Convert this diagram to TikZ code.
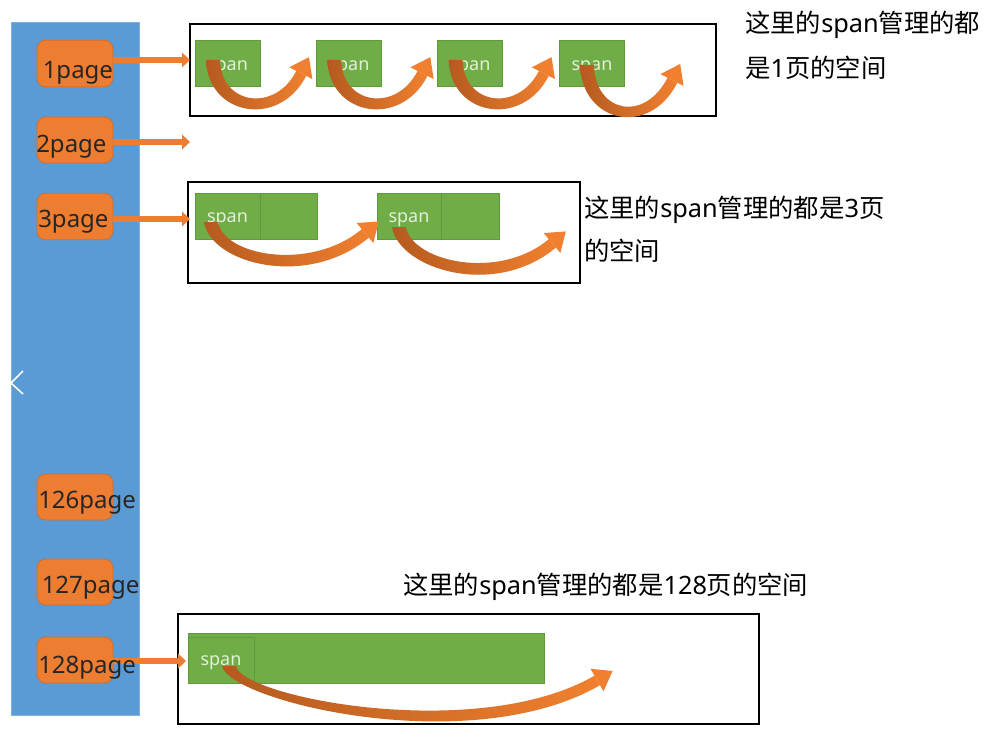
\documentclass[tikz,border=0pt]{standalone}
\usepackage{fontspec}
\setmainfont{Noto Sans}
\newfontfamily\cjk{Noto Sans CJK SC}
\usetikzlibrary{arrows.meta,calc}
\definecolor{barblue}{HTML}{5B9BD5}
\definecolor{barline}{HTML}{7FB1E0}
\definecolor{pgorange}{HTML}{ED7D31}
\definecolor{pgline}{HTML}{CF6E2C}
\definecolor{arrdark}{HTML}{B55A1F}
\definecolor{arrlight}{HTML}{F0802F}
\definecolor{spgreen}{HTML}{70AD47}
\definecolor{spline}{HTML}{5E9B3C}
\definecolor{sptext}{HTML}{E2EFDA}
\definecolor{labtext}{HTML}{262626}
% curved arrow: start x,y ; head base x,y ; head angle ; ctrl1 dx,dy ; ctrl2 length ; inner factor
\newcommand\carr[9]{%
  \coordinate (cS) at (#1,#2);
  \coordinate (cM) at (#3,#4);
  \coordinate (cJo) at ($(cM)+(#5+90:6)$);
  \coordinate (cJi) at ($(cM)+(#5-90:5)$);
  \coordinate (cWo) at ($(cM)+(#5+90:13)$);
  \coordinate (cWi) at ($(cM)+(#5-90:13)$);
  \coordinate (cT) at ($(cM)+(#5:18)$);
  \shade[left color=arrdark,right color=arrlight]
    ($(cS)+(-7,0)$) .. controls ($(cS)+(#6,#7)$) and ($(cJo)+(#5+180:#8)$) .. (cJo)
    -- (cJi) .. controls ($(cJi)+(#5+180:#9*#8)$) and ($(cS)+(#6+13,#9*#7)$) .. ($(cS)+(7,0)$) -- cycle;
  \fill[arrlight] (cWi) -- (cT) -- (cWo) -- cycle;
}
\begin{document}
\begin{tikzpicture}[x=0.75pt,y=-0.75pt,
  pagebox/.style={draw=pgline,line width=0.6pt,fill=pgorange,rounded corners=6.5pt,
    minimum width=57pt,minimum height=35pt,inner sep=0pt},
  pagelabel/.style={anchor=base west,inner sep=0pt,text=labtext,font=\fontsize{18}{20}\selectfont},
  pagearrow/.style={draw=pgorange,line width=3.8pt,-{Triangle[length=6pt,width=11pt]}},
  spanbox/.style={draw=spline,line width=0.5pt,fill=spgreen,inner sep=0pt,
    minimum width=48.75pt,minimum height=35pt,text=sptext,text height=1.2em,text depth=0.2em,
    font=\fontsize{13.5}{15}\selectfont},
  cellbox/.style={draw=spline,line width=0.5pt,fill=spgreen,inner sep=0pt,minimum height=34.5pt},
  frame/.style={draw=black,line width=2.2pt},
  note/.style={anchor=base west,inner sep=0pt,text=black,font=\fontsize{19}{21}\selectfont}]
\useasboundingbox (0,0) rectangle (988,738);
\fill[white] (0,0) rectangle (988,738);

% blue column
\draw[fill=barblue,draw=barline,line width=0.6pt] (11,22) rectangle (139,715);
\draw[white,line width=1.2pt] (23,371) -- (11,383) -- (23,394);

% page boxes
\node[pagebox] (p1) at (75,63.5) {};
\node[pagebox,minimum height=34.5pt] (p2) at (75,140) {};
\node[pagebox] (p3) at (75,216.5) {};
\node[pagebox,minimum height=34.5pt] (p126) at (75,497) {};
\node[pagebox,minimum height=34.5pt] (p127) at (75,582) {};
\node[pagebox,minimum height=34.5pt] (p128) at (75,660) {};

% frames
\draw[frame] (190,24) rectangle (716,116);
\draw[frame] (188,182) rectangle (580,283);
\draw[frame] (178,614) rectangle (759,724);

% arrows from page boxes
\coordinate (t1) at (190,60);
\coordinate (t2) at (190,142);
\coordinate (t3) at (190,219);
\coordinate (t128) at (186,661);
\draw[pagearrow] (p1.east |- t1) -- (t1);
\draw[pagearrow] (p2.east |- t2) -- (t2);
\draw[pagearrow] (p3.east |- t3) -- (t3);
\draw[pagearrow] ($(p128.east |- t128)+(-5,0)$) -- (t128);

% page labels
\node[pagelabel] (l1) at (42.5,79) {1page};
\node[pagelabel] (l2) at (36,152) {2page};
\node[pagelabel] (l3) at (38,227) {3page};
\node[pagelabel] (l126) at (38,508) {126page};
\node[pagelabel] (l127) at (41.5,593) {127page};
\node[pagelabel] (l128) at (38,673) {128page};

% spans, 1 page
\node[spanbox] (a1) at (227.5,63.5) {span};
\node[spanbox] (a2) at (349,63.5) {span};
\node[spanbox] (a3) at (470,63.5) {span};
\node[spanbox] (a4) at (592,63.5) {span};

% spans, 3 pages
\node[spanbox,minimum height=34.5pt] (b1) at (227.5,216) {span};
\node[cellbox,minimum width=42.75pt] (b1x) at (288.5,216) {};
\node[spanbox,minimum width=48pt,minimum height=34.5pt] (b2) at (409,216) {span};
\node[cellbox,minimum width=43.5pt] (b2x) at (470,216) {};

% span, 128 pages
\node[cellbox,minimum width=267pt,minimum height=37.5pt] (c0) at (366,658) {};
\node[spanbox,minimum width=49.5pt,minimum height=34.5pt,text height=1.05em] (c1) at (221,660) {span};

% curved arrows
\carr{213}{60}{300.8}{73.2}{-63}{-5}{56}{59}{0.8}
\carr{334.3}{60}{422.1}{73.2}{-63}{-5}{56}{59}{0.8}
\carr{455.6}{60}{543.4}{73.2}{-63}{-5}{56}{59}{0.8}
\carr{587}{65}{672}{80}{-63}{-5}{58}{62}{0.82}
\carr{211}{222}{365}{233}{-40}{0}{42}{80}{0.82}
\carr{399}{227}{552}{243}{-40}{0}{42}{80}{0.82}
\carr{229}{666}{597}{680}{-30}{0}{35}{150}{0.9}

% notes
\node[note] (n1a) at (745,33) {{\cjk 这里的}span{\cjk 管理的都}};
\node[note] (n1b) at (745,78) {{\cjk 是}1{\cjk 页的空间}};
\node[note] (n2a) at (584,217) {{\cjk 这里的}span{\cjk 管理的都是}3{\cjk 页}};
\node[note] (n2b) at (584,260) {{\cjk 的空间}};
\node[note] (n3) at (403,594) {{\cjk 这里的}span{\cjk 管理的都是}128{\cjk 页的空间}};
\end{tikzpicture}
\end{document}
